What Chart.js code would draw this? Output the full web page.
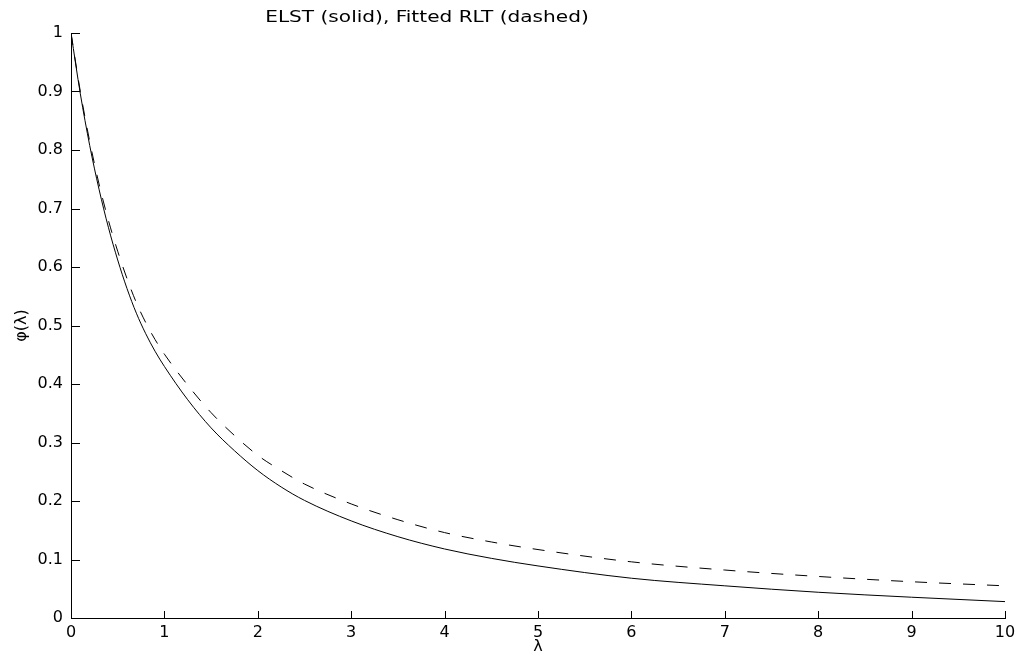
<!DOCTYPE html>
<html>
<head>
<meta charset="utf-8">
<script src="https://cdn.jsdelivr.net/npm/chart.js@4.4.0/dist/chart.umd.min.js"></script>
<style>
html,body{margin:0;padding:0;background:#fff;}
#wrap{width:1022px;height:663px;}
</style>
</head>
<body>
<div id="wrap"><canvas id="c" width="1022" height="663"></canvas></div>
<script>
const chartTitle = 'ELST (solid), Fitted RLT (dashed)';
const xAxisLabel = 'λ';
const yAxisLabel = 'φ(λ)';

const xTickValues = [0, 1, 2, 3, 4, 5, 6, 7, 8, 9, 10];
const xTickLabels = ['0', '1', '2', '3', '4', '5', '6', '7', '8', '9', '10'];
const yTickValues = [0, 0.1, 0.2, 0.3, 0.4, 0.5, 0.6, 0.7, 0.8, 0.9, 1];
const yTickLabels = ['0', '0.1', '0.2', '0.3', '0.4', '0.5', '0.6', '0.7', '0.8', '0.9', '1'];

// ELST (solid)
const lambdaSolid = [0, 0.1, 0.2, 0.3, 0.4, 0.5, 0.6, 0.7, 0.8, 0.9, 1.0, 1.25, 1.5, 1.75, 2.0, 2.25, 2.5, 3.0, 3.5, 4.0, 4.5, 5.0, 6.0, 7.0, 8.0, 9.0, 10.0];
const elstValues  = [1.0, 0.896, 0.808, 0.733, 0.668, 0.612, 0.563, 0.521, 0.486, 0.456, 0.430, 0.373, 0.325, 0.286, 0.252, 0.224, 0.201, 0.166, 0.139, 0.118, 0.102, 0.089, 0.068, 0.055, 0.044, 0.0355, 0.028];

// Fitted RLT (dashed)
const lambdaDashed = [0, 0.1, 0.2, 0.3, 0.4, 0.5, 0.6, 0.7, 0.8, 0.9, 1.0, 1.25, 1.5, 1.75, 2.0, 2.25, 2.5, 3.0, 3.5, 4.0, 4.5, 5.0, 6.0, 7.0, 8.0, 9.0, 10.0];
const rltValues    = [1.0, 0.900, 0.815, 0.742, 0.680, 0.627, 0.580, 0.539, 0.505, 0.476, 0.451, 0.398, 0.351, 0.312, 0.278, 0.252, 0.229, 0.195, 0.168, 0.146, 0.130, 0.117, 0.096, 0.082, 0.071, 0.062, 0.055];

const toPoints = (xs, ys) => xs.map((x, i) => ({x: x, y: ys[i]}));

const decor = {
  id: 'decor',
  afterDraw(chart) {
    const ctx = chart.ctx;
    const {left, bottom} = chart.chartArea;
    const xs = chart.scales.x, ys = chart.scales.y;
    ctx.save();
    ctx.strokeStyle = '#000';
    ctx.lineWidth = 1;
    ctx.beginPath();
    yTickValues.forEach(v => {
      const py = Math.round(ys.getPixelForValue(v)) + 0.5;
      ctx.moveTo(left, py); ctx.lineTo(left + 9, py);
    });
    xTickValues.forEach(v => {
      const px = Math.round(xs.getPixelForValue(v)) + 0.5;
      ctx.moveTo(px, bottom); ctx.lineTo(px, bottom - 7);
    });
    ctx.stroke();
    ctx.fillStyle = '#000';
    ctx.font = '15px "DejaVu Sans"';
    ctx.textAlign = 'center';
    ctx.textBaseline = 'alphabetic';
    ctx.translate(427, 21.5);
    ctx.scale(1.34, 1);
    ctx.fillText(chartTitle, 0, 0);
    ctx.restore();
  }
};

const tickFont = {family: 'DejaVu Sans', size: 16};

new Chart(document.getElementById('c'), {
  type: 'line',
  data: {
    datasets: [
      {
        label: 'ELST',
        data: toPoints(lambdaSolid, elstValues),
        borderColor: '#000',
        borderWidth: 1,
        pointRadius: 0,
        fill: false,
        cubicInterpolationMode: 'monotone'
      },
      {
        label: 'Fitted RLT',
        data: toPoints(lambdaDashed, rltValues),
        borderColor: '#000',
        borderWidth: 1,
        borderDash: [12, 12],
        pointRadius: 0,
        fill: false,
        cubicInterpolationMode: 'monotone'
      }
    ]
  },
  options: {
    responsive: false,
    animation: false,
    devicePixelRatio: 1,
    layout: {padding: {left: 0, right: 17, top: 33, bottom: 0}},
    plugins: {
      legend: {display: false},
      tooltip: {enabled: false},
      title: {display: false}
    },
    scales: {
      x: {
        type: 'linear',
        position: 'bottom',
        min: 0,
        max: 10,
        afterBuildTicks: s => { s.ticks = xTickValues.map(v => ({value: v})); },
        afterFit: s => { s.height = 45; },
        grid: {display: false, drawTicks: false},
        border: {display: true, color: '#000', width: 1},
        ticks: {
          color: '#000',
          font: tickFont,
          padding: 5,
          maxRotation: 0,
          autoSkip: false,
          callback: (v, i) => xTickLabels[i]
        },
        title: {
          display: true,
          text: xAxisLabel,
          color: '#000',
          font: {family: 'DejaVu Sans', size: 16},
          padding: {top: 0, bottom: 7}
        }
      },
      y: {
        type: 'linear',
        position: 'left',
        min: 0,
        max: 1,
        afterBuildTicks: s => { s.ticks = yTickValues.map(v => ({value: v})); },
        afterFit: s => { s.width = 71; },
        grid: {display: false, drawTicks: false},
        border: {display: true, color: '#000', width: 1},
        ticks: {
          color: '#000',
          font: tickFont,
          padding: 8,
          autoSkip: false,
          callback: (v, i) => yTickLabels[i]
        },
        title: {
          display: true,
          text: yAxisLabel,
          color: '#000',
          font: {family: 'DejaVu Sans', size: 16},
          padding: {top: 12, bottom: 0}
        }
      }
    }
  },
  plugins: [decor]
});
</script>
</body>
</html>
